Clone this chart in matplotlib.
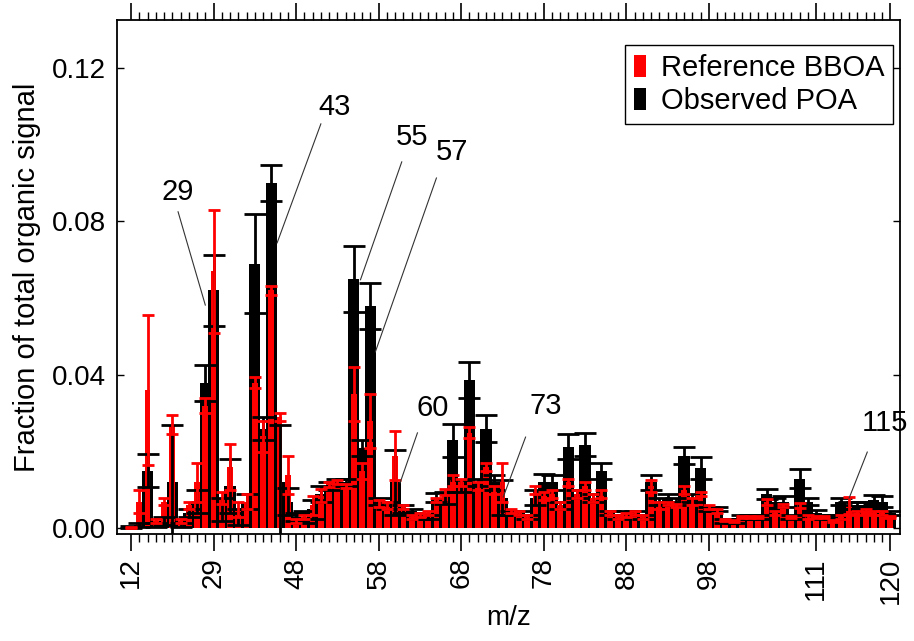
import numpy as np
import matplotlib
matplotlib.use("Agg")
import matplotlib.pyplot as plt
from matplotlib.patches import Patch
from matplotlib.ticker import FixedLocator

plt.rcParams['font.family'] = ['Liberation Sans', 'DejaVu Sans']

# ion list (m/z), one bar slot per ion
mz = [12, 13, 15, 16, 17, 18, 24, 25, 26, 27, 29, 30, 31, 38, 39,
      41, 42, 43, 44, 45] + list(range(48, 121))

poa = [0.0004, 0.001, 0.015, 0.001, 0.002, 0.012, 0.001, 0.004, 0.007, 0.038,
       0.062, 0.005, 0.011, 0.003, 0.007, 0.069, 0.026, 0.090, 0.012, 0.007,
       0.003, 0.003, 0.005, 0.009, 0.011, 0.012, 0.012, 0.065, 0.021, 0.058,
       0.007, 0.006, 0.012, 0.005, 0.0045, 0.003, 0.003, 0.008, 0.008, 0.023,
       0.011, 0.0387, 0.012, 0.026, 0.012, 0.008, 0.004, 0.004, 0.003, 0.008,
       0.012, 0.012, 0.006, 0.0213, 0.009, 0.0218, 0.008, 0.015, 0.004, 0.003,
       0.004, 0.004, 0.003, 0.012, 0.007, 0.008, 0.007, 0.0189, 0.008, 0.0157,
       0.005, 0.005, 0.002, 0.002, 0.003, 0.003, 0.003, 0.009, 0.007, 0.007,
       0.003, 0.013, 0.007, 0.004, 0.003, 0.003, 0.007, 0.006, 0.006, 0.006,
       0.0075, 0.007, 0.004]
poa_err = [0.0002, 0.0005, 0.0043, 0.0005, 0.001, 0.015, 0.0005, 0.001, 0.003, 0.0047,
           0.0093, 0.003, 0.007, 0.002, 0.002, 0.0128, 0.003, 0.0046, 0.015, 0.0035,
           0.001, 0.0015, 0.0025, 0.002, 0.001, 0.001, 0.001, 0.0087, 0.002, 0.006,
           0.001, 0.001, 0.0085, 0.001, 0.0005, 0.0005, 0.0005, 0.0012, 0.0015, 0.0043,
           0.0015, 0.0046, 0.001, 0.0035, 0.002, 0.0045, 0.0005, 0.0005, 0.0005, 0.002,
           0.0022, 0.002, 0.001, 0.0033, 0.001, 0.003, 0.001, 0.002, 0.0005, 0.0005,
           0.0005, 0.0005, 0.0005, 0.002, 0.001, 0.001, 0.001, 0.0022, 0.001, 0.0028,
           0.0005, 0.0005, 0.0005, 0.0005, 0.0005, 0.0005, 0.0005, 0.0012, 0.001, 0.0015,
           0.0005, 0.0025, 0.001, 0.0008, 0.0005, 0.0005, 0.001, 0.001, 0.001, 0.001,
           0.0012, 0.0015, 0.0005]

bboa = [0.0002, 0.007, 0.036, 0.002, 0.007, 0.027, 0.002, 0.006, 0.012, 0.032,
        0.067, 0.008, 0.016, 0.005, 0.007, 0.038, 0.024, 0.062, 0.029, 0.014,
        0.002, 0.003, 0.006, 0.0085, 0.0115, 0.012, 0.011, 0.035, 0.015, 0.028,
        0.0065, 0.006, 0.019, 0.0055, 0.003, 0.0035, 0.004, 0.0075, 0.0095, 0.0125,
        0.012, 0.025, 0.011, 0.016, 0.010, 0.012, 0.0045, 0.004, 0.003, 0.010,
        0.0085, 0.009, 0.006, 0.012, 0.009, 0.011, 0.008, 0.009, 0.004, 0.003,
        0.0035, 0.004, 0.003, 0.011, 0.006, 0.0065, 0.006, 0.010, 0.007, 0.009,
        0.0055, 0.0045, 0.0022, 0.002, 0.003, 0.003, 0.003, 0.007, 0.004, 0.006,
        0.003, 0.006, 0.003, 0.003, 0.003, 0.002, 0.003, 0.006, 0.004, 0.0045,
        0.004, 0.004, 0.003]
bboa_err = [0.0001, 0.003, 0.0195, 0.0005, 0.001, 0.0025, 0.0005, 0.001, 0.005, 0.002,
            0.016, 0.0015, 0.006, 0.002, 0.002, 0.0015, 0.004, 0.0012, 0.001, 0.005,
            0.0005, 0.0005, 0.0025, 0.0017, 0.0007, 0.0005, 0.0005, 0.007, 0.002, 0.007,
            0.001, 0.001, 0.0065, 0.0005, 0.0005, 0.0005, 0.0005, 0.0005, 0.0008, 0.0015,
            0.001, 0.0015, 0.001, 0.001, 0.001, 0.005, 0.0005, 0.0005, 0.0005, 0.001,
            0.001, 0.001, 0.001, 0.001, 0.001, 0.001, 0.001, 0.001, 0.0005, 0.0005,
            0.0005, 0.0005, 0.0005, 0.0015, 0.001, 0.0005, 0.0005, 0.001, 0.001, 0.0005,
            0.0005, 0.0005, 0.0003, 0.0003, 0.0003, 0.0003, 0.0003, 0.0008, 0.0005, 0.0005,
            0.0003, 0.0007, 0.0005, 0.0003, 0.0003, 0.0003, 0.0005, 0.0022, 0.0005, 0.0005,
            0.0005, 0.0005, 0.0003]

tick_mz = [12, 29, 48, 58, 68, 78, 88, 98, 111, 120]

# peak labels: text position and leader line (slot index, fraction)
peak_text = ['29', '43', '55', '57', '60', '73', '115']
text_pos = [(5.7, 0.0877), (24.7, 0.1098), (34.1, 0.1020), (38.9, 0.0981),
            (36.5, 0.0314), (50.2, 0.0319), (91.4, 0.0275)]
line_from = [(5.7, 0.0825), (23.0, 0.1054), (32.8, 0.0955), (37.0, 0.0913),
             (34.7, 0.0249), (47.8, 0.0238), (89.2, 0.0199)]
line_to = [(9.0, 0.0582), (17.7, 0.0744), (27.8, 0.0648), (29.6, 0.0460),
           (32.6, 0.0119), (45.1, 0.0082), (87.0, 0.0079)]

x = np.arange(len(mz))

fig = plt.figure(figsize=(9.14, 6.41), dpi=100)
ax = fig.add_axes([0.128, 0.167, 0.857, 0.802])

ax.bar(x, poa, width=1.35, color='black', zorder=1)
ax.bar(x, bboa, width=0.7, color='#ff0000', zorder=2)
ax.errorbar(x, poa, yerr=poa_err, fmt='none', ecolor='black', elinewidth=2,
            capsize=8, capthick=2, zorder=3)
ax.errorbar(x, bboa, yerr=bboa_err, fmt='none', ecolor='#ff0000', elinewidth=2,
            capsize=4, capthick=2, zorder=4)

for t, tp, p0, p1 in zip(peak_text, text_pos, line_from, line_to):
    ax.plot([p0[0], p1[0]], [p0[1], p1[1]], color='#333333', lw=0.8, zorder=5)
    ax.text(tp[0], tp[1], t, fontsize=21, ha='center', va='center', zorder=6)

ax.set_xlim(-1.7, 93.2)
ax.set_ylim(-0.00143, 0.1325)

ax.xaxis.set_major_locator(FixedLocator([mz.index(m) for m in tick_mz]))
ax.xaxis.set_minor_locator(FixedLocator(list(x)))
ax.set_xticklabels([str(m) for m in tick_mz], rotation=90, fontsize=20)
ax.tick_params(axis='x', which='major', direction='out', length=12, width=1.2,
               top=True, bottom=True, pad=5)
ax.tick_params(axis='x', which='minor', direction='out', length=6, width=1.0,
               top=True, bottom=True)

ax.set_yticks([0.0, 0.04, 0.08, 0.12])
ax.set_yticklabels(['0.00', '0.04', '0.08', '0.12'], fontsize=20)
ax.tick_params(axis='y', direction='in', length=5, width=1.0, left=True,
               right=True, pad=8)

for s in ax.spines.values():
    s.set_linewidth(1.3)

ax.set_xlabel('m/z', fontsize=20, labelpad=1)
ax.set_ylabel('Fraction of total organic signal', fontsize=21, labelpad=8)

handles = [Patch(facecolor='#ff0000', edgecolor='none', label='Reference BBOA'),
           Patch(facecolor='black', edgecolor='none', label='Observed POA')]
leg = ax.legend(handles=handles, loc='upper right', bbox_to_anchor=(0.991, 0.951),
                borderaxespad=0, fontsize=21, handlelength=0.42, handleheight=0.8,
                handletextpad=0.5, labelspacing=0.18, borderpad=0.3,
                fancybox=False, framealpha=1, edgecolor='black')
leg.get_frame().set_linewidth(1.0)

fig.savefig('out.png', dpi=100)
